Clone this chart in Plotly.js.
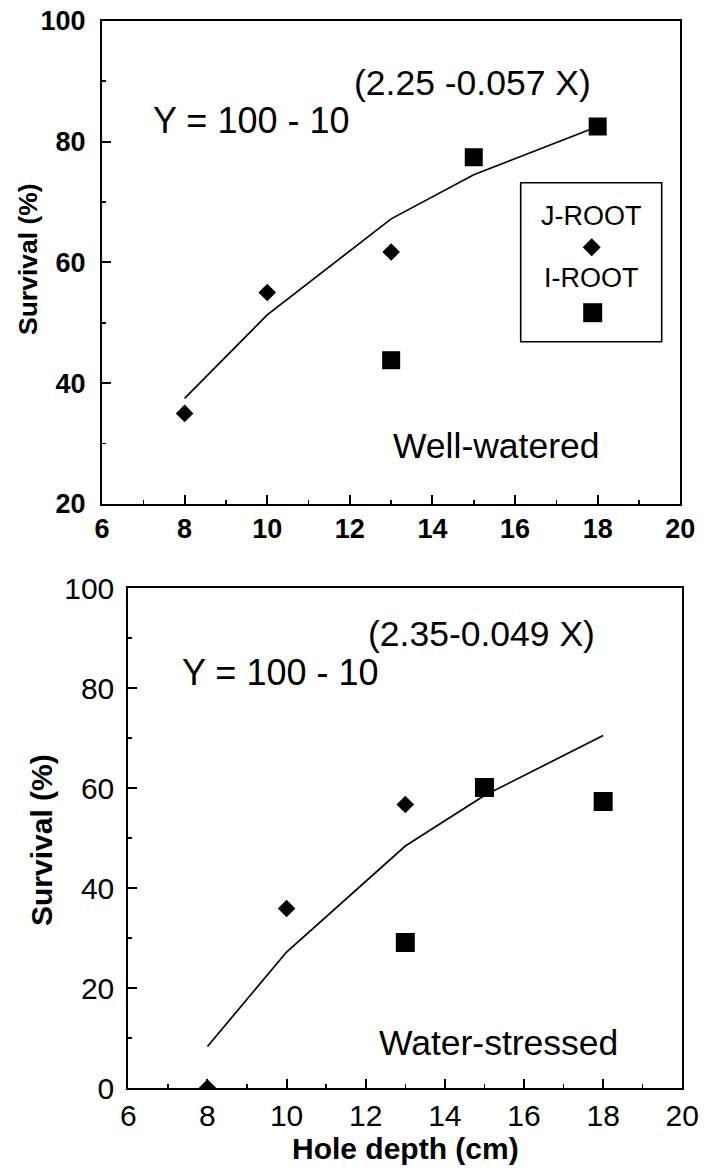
<!DOCTYPE html>
<html><head><meta charset="utf-8">
<script src="https://cdn.plot.ly/plotly-3.0.1.min.js"></script>
<style>html,body{margin:0;padding:0;background:#fff}#chart{width:708px;height:1172px}</style>
</head><body><div id="chart"></div>
<script>
// ---- data ----
const fitDepth = [8, 10, 13, 15, 18];
const wellFit = [37.5, 51.3, 67.2, 74.5, 82.5];
const stressFit = [8.3, 27.2, 48.4, 58.5, 70.5];

const jDepth = [8, 10, 13];
const wellJRoot = [35.0, 55.0, 61.7];
const stressJRoot = [0, 35.9, 56.7];

const iDepth = [13, 15, 18];
const wellIRoot = [43.8, 77.4, 82.5];
const stressIRoot = [29.1, 60.1, 57.3];

const seriesNames = ['J-ROOT', 'I-ROOT'];
const panelLabels = ['Well-watered', 'Water-stressed'];
const equationBase = 'Y = 100 - 10';
const equationExp = ['(2.25 -0.057 X)', '(2.35-0.049 X)'];
const xTitle = 'Hole depth (cm)';
const yTitle = 'Survival (%)';

// ---- helpers (pixel -> paper) ----
const W = 708, H = 1172;
const px = v => v / W;
const py = v => 1 - v / H;
const FONT = 'Liberation Sans, Arial, sans-serif';

const traces = [
  {x: fitDepth, y: wellFit, mode: 'lines', line: {color: '#000', width: 1.7}, xaxis: 'x', yaxis: 'y', showlegend: false, hoverinfo: 'skip'},
  {x: jDepth, y: wellJRoot, mode: 'markers', name: seriesNames[0], marker: {symbol: 'diamond', size: 13.5, color: '#000'}, xaxis: 'x', yaxis: 'y', showlegend: false},
  {x: iDepth, y: wellIRoot, mode: 'markers', name: seriesNames[1], marker: {symbol: 'square', size: 18, color: '#000'}, xaxis: 'x', yaxis: 'y', showlegend: false},
  {x: fitDepth, y: stressFit, mode: 'lines', line: {color: '#000', width: 1.7}, xaxis: 'x2', yaxis: 'y2', showlegend: false, hoverinfo: 'skip'},
  {x: jDepth, y: stressJRoot, mode: 'markers', name: seriesNames[0], marker: {symbol: 'diamond', size: 13.5, color: '#000'}, xaxis: 'x2', yaxis: 'y2', showlegend: false, cliponaxis: true},
  {x: iDepth, y: stressIRoot, mode: 'markers', name: seriesNames[1], marker: {symbol: 'square', size: 19, color: '#000'}, xaxis: 'x2', yaxis: 'y2', showlegend: false}
];

function xAxis(domain, anchor, bold, size, standoff) {
  return {
    domain: domain, anchor: anchor, range: [6, 20], dtick: 2, tick0: 6,
    showgrid: false, zeroline: false, showline: true, mirror: true,
    linecolor: '#000', linewidth: 2,
    ticks: 'inside', ticklen: 9, tickwidth: 2, tickcolor: '#000',
    minor: {dtick: 1, ticks: 'inside', ticklen: 4, tickwidth: 1.5, tickcolor: '#000', showgrid: false},
    tickfont: {family: FONT, size: size, color: '#000', weight: bold ? 'bold' : 'normal'},
    ticklabelstandoff: standoff, fixedrange: true
  };
}
function yAxis(domain, anchor, range, bold, size, standoff) {
  return {
    domain: domain, anchor: anchor, range: range, dtick: 20,
    showgrid: false, zeroline: false, showline: true, mirror: true,
    linecolor: '#000', linewidth: 2,
    ticks: 'inside', ticklen: 9, tickwidth: 2, tickcolor: '#000',
    minor: {dtick: 10, ticks: 'inside', ticklen: 4, tickwidth: 1.5, tickcolor: '#000', showgrid: false},
    tickfont: {family: FONT, size: size, color: '#000', weight: bold ? 'bold' : 'normal'},
    ticklabelstandoff: standoff, fixedrange: true
  };
}

function ann(text, x, yBase, size, opts) {
  opts = opts || {};
  return Object.assign({
    text: text, xref: 'paper', yref: 'paper', x: px(x), y: py(yBase - 0.35 * size),
    xanchor: 'left', yanchor: 'middle', showarrow: false,
    font: {family: FONT, size: size, color: '#000'}
  }, opts);
}

const annotations = [
  ann(equationBase, 151, 133, 36),
  ann(equationExp[0], 352, 95, 35.5),
  ann(panelLabels[0], 602, 458, 35.5, {xanchor: 'right'}),
  ann(seriesNames[0], 591, 225, 27, {xanchor: 'center'}),
  ann(seriesNames[1], 591, 287.3, 27, {xanchor: 'center'}),
  ann(equationBase, 180, 685, 36),
  ann(equationExp[1], 366, 646.7, 35.5),
  ann(panelLabels[1], 620, 1055, 35.5, {xanchor: 'right'}),
  {text: yTitle, xref: 'paper', yref: 'paper', x: px(28), y: py(259), textangle: -90,
   xanchor: 'center', yanchor: 'middle', showarrow: false,
   font: {family: FONT, size: 26.5, color: '#000', weight: 'bold'}},
  {text: yTitle, xref: 'paper', yref: 'paper', x: px(41), y: py(840), textangle: -90,
   xanchor: 'center', yanchor: 'middle', showarrow: false,
   font: {family: FONT, size: 30, color: '#000', weight: 'bold'}},
  {text: xTitle, xref: 'paper', yref: 'paper', x: px(405), y: py(1148),
   xanchor: 'center', yanchor: 'middle', showarrow: false,
   font: {family: FONT, size: 30, color: '#000', weight: 'bold'}}
];

// legend frame and keys (paper coords)
function diamondPath(cx, cy, r) {
  return 'M' + px(cx - r) + ',' + py(cy) + ' L' + px(cx) + ',' + py(cy - r) +
         ' L' + px(cx + r) + ',' + py(cy) + ' L' + px(cx) + ',' + py(cy + r) + ' Z';
}
const shapes = [
  {type: 'rect', xref: 'paper', yref: 'paper', x0: px(520.7), x1: px(661.7), y0: py(341.7), y1: py(182.7),
   line: {color: '#000', width: 1.6}, fillcolor: 'rgba(0,0,0,0)'},
  {type: 'path', xref: 'paper', yref: 'paper', path: diamondPath(591.7, 247.3, 9),
   line: {color: '#000', width: 0}, fillcolor: '#000'},
  {type: 'rect', xref: 'paper', yref: 'paper', x0: px(583.2), x1: px(602.2), y0: py(322.2), y1: py(303.2),
   line: {color: '#000', width: 0}, fillcolor: '#000'}
];

const layout = {
  width: W, height: H, margin: {l: 0, r: 0, t: 0, b: 0},
  paper_bgcolor: '#fff', plot_bgcolor: '#fff', showlegend: false,
  xaxis: xAxis([px(102), px(680.3)], 'y', true, 27, 0),
  yaxis: yAxis([py(504), py(20.7)], 'x', [20, 100], true, 27, 9),
  xaxis2: xAxis([px(128.3), px(682.3)], 'y2', false, 30, 0),
  yaxis2: yAxis([py(1088), py(588)], 'x2', [0, 100], false, 30, 6),
  annotations: annotations, shapes: shapes
};

Plotly.newPlot('chart', traces, layout, {displayModeBar: false, staticPlot: true});
</script></body></html>
